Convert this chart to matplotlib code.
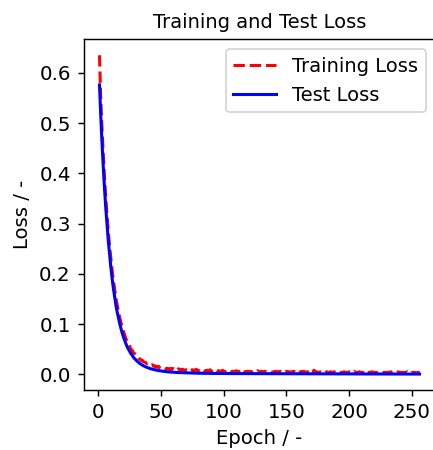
import matplotlib
matplotlib.use("Agg")
import matplotlib.pyplot as plt

epochs = list(range(1, 257))

test_early = [
    0.576, 0.515, 0.461, 0.413, 0.370, 0.331, 0.297, 0.266, 0.239, 0.214,
    0.192, 0.172, 0.155, 0.139, 0.125, 0.113, 0.102, 0.092, 0.083, 0.075,
    0.068, 0.061, 0.055, 0.050, 0.046, 0.041, 0.038, 0.034, 0.031, 0.0284,
    0.0260, 0.0238, 0.0218, 0.0201, 0.0184, 0.0170, 0.0157, 0.0145, 0.0135, 0.0125,
    0.0115, 0.0107, 0.0101, 0.0094, 0.0088, 0.0082, 0.0078, 0.0073, 0.0069, 0.0065,
]
test_mid = [
    0.0062, 0.0058, 0.0055, 0.0052, 0.0050, 0.0047, 0.0045, 0.0043, 0.0041, 0.0040,
    0.0038, 0.0036, 0.0035, 0.0034, 0.0033, 0.0031, 0.0030, 0.0029, 0.0028, 0.0027,
    0.0026, 0.0026, 0.0025, 0.0024, 0.0024, 0.0023, 0.0022, 0.0022, 0.0021, 0.0021,
    0.0020, 0.0020, 0.0019, 0.0019, 0.0019, 0.0018, 0.0018, 0.0018, 0.0017, 0.0017,
    0.0017, 0.0016, 0.0016, 0.0016, 0.0016, 0.0015, 0.0015, 0.0015, 0.0015, 0.0015,
]
test_late = [
    0.0015, 0.0014, 0.0015, 0.0014, 0.0014, 0.0015, 0.0014, 0.0013, 0.0014, 0.0014,
    0.0013, 0.0014, 0.0013, 0.0013, 0.0014, 0.0013, 0.0013, 0.0012, 0.0013, 0.0013,
    0.0012, 0.0013, 0.0012, 0.0012, 0.0013, 0.0012, 0.0012, 0.0013, 0.0012, 0.0012,
    0.0011, 0.0012, 0.0012, 0.0011, 0.0012, 0.0011, 0.0011, 0.0012, 0.0011, 0.0011,
    0.0011, 0.0011, 0.0010, 0.0011, 0.0011, 0.0010, 0.0011, 0.0010, 0.0010, 0.0011,
    0.0010, 0.0010, 0.0010, 0.0011, 0.0010, 0.0010, 0.0009, 0.0010, 0.0010, 0.0009,
    0.0010, 0.0009, 0.0010, 0.0009, 0.0009, 0.0010, 0.0009, 0.0009, 0.0009, 0.0009,
    0.0009, 0.0009, 0.0008, 0.0009, 0.0009, 0.0008, 0.0009, 0.0008, 0.0008, 0.0009,
    0.0008, 0.0008, 0.0008, 0.0008, 0.0008, 0.0008, 0.0007, 0.0008, 0.0008, 0.0007,
    0.0008, 0.0007, 0.0007, 0.0008, 0.0007, 0.0007, 0.0007, 0.0007, 0.0007, 0.0007,
    0.0007, 0.0006, 0.0007, 0.0007, 0.0006, 0.0007, 0.0006, 0.0006, 0.0007, 0.0006,
    0.0006, 0.0006, 0.0006, 0.0006, 0.0006, 0.0006, 0.0006, 0.0005, 0.0006, 0.0006,
    0.0005, 0.0006, 0.0005, 0.0005, 0.0006, 0.0005, 0.0005, 0.0005, 0.0005, 0.0005,
    0.0005, 0.0005, 0.0005, 0.0005, 0.0005, 0.0004, 0.0005, 0.0005, 0.0004, 0.0005,
    0.0004, 0.0005, 0.0004, 0.0004, 0.0005, 0.0004, 0.0004, 0.0004, 0.0004, 0.0004,
    0.0004, 0.0004, 0.0004, 0.0004, 0.0004, 0.0004,
]
test_loss = test_early + test_mid + test_late

train_early = [
    0.635, 0.548, 0.489, 0.438, 0.392, 0.352, 0.316, 0.284, 0.256, 0.231,
    0.208, 0.188, 0.170, 0.153, 0.139, 0.126, 0.114, 0.104, 0.094, 0.086,
    0.079, 0.071, 0.066, 0.060, 0.056, 0.050, 0.048, 0.043, 0.041, 0.037,
    0.036, 0.032, 0.031, 0.028, 0.028, 0.025, 0.024, 0.023, 0.021, 0.022,
    0.019, 0.018, 0.019, 0.016, 0.017, 0.015, 0.014, 0.016, 0.013, 0.012,
]
train_late = [
    0.013, 0.011, 0.012, 0.010, 0.012, 0.011, 0.009, 0.012, 0.010, 0.011,
    0.009, 0.010, 0.008, 0.011, 0.009, 0.008, 0.010, 0.009, 0.007, 0.009,
    0.008, 0.010, 0.007, 0.008, 0.009, 0.007, 0.008, 0.010, 0.007, 0.008,
    0.006, 0.008, 0.007, 0.009, 0.006, 0.007, 0.008, 0.006, 0.009, 0.007,
    0.006, 0.007, 0.005, 0.008, 0.006, 0.007, 0.005, 0.006, 0.008, 0.006,
    0.005, 0.007, 0.006, 0.005, 0.007, 0.005, 0.006, 0.004, 0.006, 0.007,
    0.005, 0.006, 0.004, 0.006, 0.005, 0.007, 0.004, 0.005, 0.006, 0.004,
    0.006, 0.005, 0.004, 0.006, 0.005, 0.004, 0.007, 0.005, 0.004, 0.006,
    0.004, 0.005, 0.006, 0.004, 0.005, 0.004, 0.006, 0.005, 0.004, 0.005,
    0.006, 0.004, 0.005, 0.004, 0.006, 0.005, 0.004, 0.005, 0.004, 0.006,
    0.004, 0.005, 0.003, 0.005, 0.004, 0.006, 0.004, 0.005, 0.004, 0.003,
    0.005, 0.004, 0.006, 0.004, 0.005, 0.003, 0.005, 0.004, 0.007, 0.004,
    0.005, 0.008, 0.004, 0.005, 0.004, 0.003, 0.005, 0.004, 0.005, 0.003,
    0.004, 0.005, 0.004, 0.003, 0.005, 0.004, 0.003, 0.005, 0.004, 0.004,
    0.003, 0.005, 0.004, 0.003, 0.004, 0.005, 0.003, 0.004, 0.003, 0.005,
    0.004, 0.003, 0.004, 0.006, 0.003, 0.004, 0.003, 0.005, 0.004, 0.003,
    0.004, 0.003, 0.005, 0.003, 0.004, 0.003, 0.004, 0.005, 0.003, 0.004,
    0.003, 0.004, 0.003, 0.005, 0.003, 0.004, 0.003, 0.004, 0.003, 0.004,
    0.003, 0.004, 0.005, 0.003, 0.004, 0.003, 0.004, 0.003, 0.005, 0.003,
    0.004, 0.003, 0.004, 0.003, 0.003, 0.005, 0.003, 0.004, 0.003, 0.004,
    0.003, 0.004, 0.003, 0.003, 0.004, 0.003,
]
train_loss = train_early + train_late

title = "Training and Test Loss"
xlabel = "Epoch / -"
ylabel = "Loss / -"

plt.rcParams["font.size"] = 10.8
plt.rcParams["axes.titlesize"] = 10.8
plt.rcParams["axes.labelsize"] = 10.9
plt.rcParams["xtick.labelsize"] = 11
plt.rcParams["ytick.labelsize"] = 11
plt.rcParams["legend.fontsize"] = 10.8

fig = plt.figure(figsize=(433 / 130, 450 / 130), dpi=130)
ax = fig.add_axes([83.5 / 433, 1 - 390 / 450, 352 / 433, 350.7 / 450])
ax.plot(epochs, train_loss, color="red", linestyle="--", linewidth=1.7, label="Training Loss")
ax.plot(epochs, test_loss, color="blue", linestyle="-", linewidth=1.7, label="Test Loss")
ax.set_title(title)
ax.set_xlabel(xlabel)
ax.set_ylabel(ylabel)
ax.set_xticks([0, 50, 100, 150, 200, 250])
ax.legend(loc="upper right", handlelength=2.2)
fig.savefig("out.png", dpi=130)
